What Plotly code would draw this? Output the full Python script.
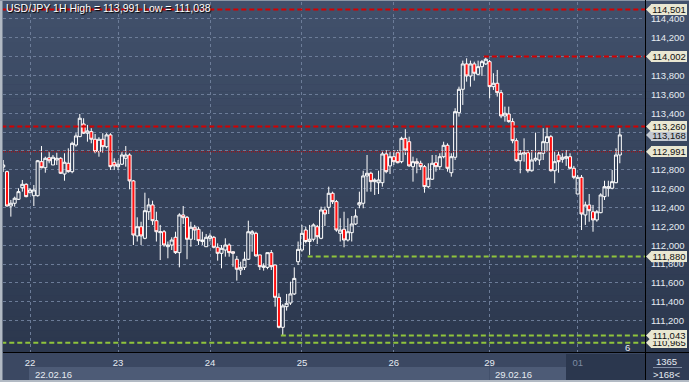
import plotly.graph_objects as go

# ---------------- data (USD/JPY, 1H candles) ----------------
opens = [112.829,112.780,112.416,112.445,112.487,112.610,112.646,112.557,112.525,112.525,
         112.886,112.822,112.928,112.851,112.904,112.922,112.755,112.869,112.780,113.063,
         113.152,113.286,113.188,113.205,113.124,112.992,113.124,113.045,113.170,112.880,
         112.833,112.859,112.922,112.957,112.682,112.098,112.196,112.073,112.355,112.427,
         112.260,112.133,112.143,111.984,112.002,112.084,111.921,112.321,112.296,112.063,
         112.190,112.169,112.039,111.984,112.073,112.084,111.978,111.914,111.949,112.002,
         111.931,111.851,111.737,111.765,111.851,112.119,112.126,111.897,111.765,111.765,
         111.921,111.790,111.447,111.129,111.348,111.387,111.483,111.825,111.949,112.161,
         112.039,112.063,112.196,112.073,112.374,112.402,112.551,112.462,112.126,112.169,
         112.055,112.133,112.225,112.427,112.445,112.735,112.763,112.674,112.663,112.663,
         112.968,112.841,112.939,112.981,112.886,113.134,113.098,112.833,112.886,112.869,
         112.833,112.621,112.700,112.875,112.833,112.939,113.060,112.769,112.933,113.406,
         113.654,113.923,113.795,113.923,113.813,113.894,113.923,113.947,113.682,113.718,
         113.618,113.371,113.392,113.311,113.109,112.896,112.968,112.981,112.790,112.904,
         112.904,112.975,113.088,113.151,112.790,112.957,112.911,112.922,112.939,112.816,
         112.543,112.720,112.321,112.427,112.355,112.268,112.345,112.515,112.604,112.604,
         112.663,112.957]
highs = [112.904,112.790,112.480,112.515,112.604,112.692,112.657,112.604,112.639,112.904,
         113.052,112.939,112.992,112.957,112.981,112.933,112.975,113.028,113.098,113.188,
         113.392,113.347,113.276,113.241,113.180,113.146,113.188,113.188,113.188,112.922,
         112.904,112.992,113.052,112.975,112.692,112.296,112.249,112.557,112.498,112.472,
         112.355,112.215,112.161,112.039,112.084,112.143,112.339,112.416,112.310,112.249,
         112.215,112.196,112.143,112.119,112.126,112.098,112.020,112.002,112.073,112.020,
         111.931,111.886,111.825,111.931,112.260,112.161,112.143,111.897,111.808,111.921,
         111.949,111.790,111.490,111.377,111.483,111.613,111.765,112.039,112.215,112.196,
         112.215,112.232,112.215,112.409,112.409,112.621,112.568,112.480,112.286,112.355,
         112.286,112.310,112.381,112.568,112.790,112.957,112.780,112.710,112.790,112.992,
         113.010,112.992,113.010,113.010,113.151,113.230,113.151,112.939,112.922,112.896,
         112.851,112.869,112.957,112.957,112.975,113.098,113.081,112.975,113.453,113.682,
         113.958,113.983,113.958,113.947,113.958,113.965,113.991,113.965,113.824,113.859,
         113.647,113.470,113.470,113.347,113.134,113.010,113.134,113.010,113.010,113.194,
         112.992,113.241,113.251,113.170,112.992,112.992,112.975,113.010,112.975,112.841,
         112.745,112.745,112.462,112.543,112.427,112.374,112.551,112.684,112.684,112.798,
         113.028,113.241]
lows = [112.777,112.409,112.303,112.409,112.480,112.568,112.508,112.551,112.416,112.515,
        112.816,112.769,112.869,112.851,112.851,112.755,112.684,112.769,112.763,113.045,
        113.146,113.180,113.098,113.081,112.975,112.939,112.981,113.028,112.798,112.798,
        112.798,112.851,112.833,112.593,112.002,112.039,112.002,112.063,112.268,112.215,
        112.039,111.843,111.984,111.861,111.949,111.907,111.765,112.225,111.851,111.984,
        112.055,112.002,112.002,111.984,112.039,111.967,111.836,111.755,111.878,111.878,
        111.772,111.624,111.684,111.737,111.843,111.931,111.878,111.737,111.730,111.745,
        111.737,111.348,111.118,111.038,111.306,111.366,111.472,111.790,111.931,112.020,
        111.897,112.039,112.013,112.063,112.204,112.331,112.437,112.143,112.039,111.978,
        112.039,112.039,112.215,112.392,112.392,112.568,112.568,112.533,112.543,112.621,
        112.763,112.755,112.851,112.869,112.869,112.957,112.833,112.674,112.763,112.798,
        112.557,112.604,112.692,112.780,112.798,112.922,112.780,112.727,112.904,113.364,
        113.488,113.735,113.682,113.746,113.806,113.795,113.912,113.559,113.647,113.576,
        113.347,113.311,113.300,113.081,112.886,112.763,112.886,112.769,112.780,112.886,
        112.851,112.904,112.992,112.780,112.657,112.769,112.875,112.841,112.806,112.700,
        112.543,112.161,112.215,112.249,112.143,112.249,112.339,112.480,112.515,112.593,
        112.657,112.869]
closes = [112.851,112.416,112.445,112.498,112.568,112.646,112.515,112.586,112.586,112.896,
          112.822,112.922,112.896,112.933,112.922,112.763,112.880,112.780,113.081,113.159,
          113.347,113.188,113.212,113.124,112.992,113.124,113.045,113.170,112.833,112.841,
          112.859,112.957,112.957,112.682,112.108,112.196,112.098,112.366,112.427,112.260,
          112.143,112.143,112.002,112.002,112.055,111.921,112.321,112.292,112.063,112.190,
          112.161,112.048,112.055,112.084,112.098,111.978,111.914,111.967,112.002,111.921,
          111.914,111.745,111.765,111.851,112.143,112.143,111.886,111.772,111.780,111.921,
          111.772,111.447,111.129,111.356,111.384,111.483,111.648,111.956,112.126,112.039,
          112.063,112.215,112.090,112.374,112.331,112.551,112.462,112.161,112.161,112.055,
          112.143,112.225,112.310,112.451,112.735,112.763,112.674,112.692,112.692,112.968,
          112.780,112.939,112.886,112.875,113.134,113.010,112.841,112.886,112.869,112.833,
          112.621,112.710,112.869,112.833,112.939,113.060,112.816,112.939,113.417,113.654,
          113.923,113.795,113.923,113.824,113.894,113.947,113.973,113.682,113.718,113.618,
          113.371,113.400,113.311,113.109,112.896,112.975,112.981,112.790,112.904,112.922,
          112.981,113.098,113.151,112.790,112.886,112.886,112.933,112.939,112.816,112.720,
          112.720,112.331,112.427,112.366,112.268,112.355,112.533,112.621,112.621,112.674,
          112.957,113.170]

day_start_bar = [7, 30, 54, 78, 102, 127, 150]
day_labels = ["22", "23", "24", "25", "26", "29", "01"]
week_labels = ["22.02.16", "29.02.16"]

price_ticks = [111.2, 111.4, 111.6, 111.8, 112.0, 112.2, 112.4, 112.6, 112.8,
               113.0, 113.2, 113.4, 113.6, 113.8, 114.0, 114.2, 114.4]

red_levels = [114.501, 114.002, 113.260]
red_level_from_bar = [0, 126, 0]
green_levels = [111.880, 111.043, 110.965]
green_level_from_bar = [80, 73, 0]
last_price_level = 112.991
last_close_tag = 113.168
high_value, low_value = 113.991, 111.038
bars_total, bars_visible = 1365, 168

# ---------------- geometry helpers ----------------
W, H = 689, 382
ML, MR, MT, MB = 3, 44, 2, 30
PW, PH = W - ML - MR, H - MT - MB
BAR_PX = 3.83

def pxx(px):
    return (px - ML) / PW

def pxy(py):
    return (H - MB - py) / PH

x_range = [-0.05, -0.05 + PW / BAR_PX]
y_range = [110.867, 114.580]
px_per_price = PH / (y_range[1] - y_range[0])

def fmt(v):
    return f"{v:.3f}".replace(".", ",")

FONT = "Liberation Sans"
idx = list(range(len(opens)))

fig = go.Figure()
fig.add_trace(go.Candlestick(
    x=idx, open=opens, high=highs, low=lows, close=closes,
    increasing=dict(line=dict(color="#ffffff", width=1), fillcolor="rgba(0,0,0,0)"),
    decreasing=dict(line=dict(color="#ffffff", width=1), fillcolor="#ff1010"),
    whiskerwidth=0, showlegend=False, hoverinfo="skip"))

shapes = []
# background gradient (plot + right price scale)
top_c = (65, 80, 107)
bot_c = (44, 56, 78)
N = 50
for i in range(N):
    t = i / (N - 1)
    c = tuple(int(round(top_c[k] + (bot_c[k] - top_c[k]) * t)) for k in range(3))
    ytop = pxy(0) - pxy(0) * i / N
    ybot = pxy(0) - pxy(0) * (i + 1) / N
    shapes.append(dict(type="rect", xref="paper", yref="paper", x0=pxx(0), x1=pxx(W),
                       y0=ybot, y1=ytop + 0.001, fillcolor=f"rgb{c}", line_width=0, layer="below"))

def prect(x0, x1, y0, y1, color, layer="below"):
    shapes.append(dict(type="rect", xref="paper", yref="paper", x0=pxx(x0), x1=pxx(x1),
                       y0=pxy(y1), y1=pxy(y0), fillcolor=color, line_width=0, layer=layer))

# bottom time-scale area
prect(0, 645.5, 352, 381, "#3b4862")
prect(29, 489, 367, 380, "#4d5b76")
prect(489.5, 566, 367, 380, "#4d5b76")
prect(566, 645, 354, 380, "#2b374e")
prect(646, 689, 353, 381, "#2f3b54")
prect(0, 689, 380, 382, "#b2bac4")
prect(0, 2.5, 0, 382, "#b2bac4")
prect(0, 689, 0, 1, "#8c96a6")

# separators
shapes.append(dict(type="line", xref="paper", yref="paper", x0=pxx(645.5), x1=pxx(645.5),
                   y0=pxy(380), y1=pxy(0), line=dict(color="#000000", width=1), layer="above"))
shapes.append(dict(type="line", xref="paper", yref="paper", x0=pxx(3), x1=pxx(689),
                   y0=pxy(352.5), y1=pxy(352.5), line=dict(color="#000000", width=1), layer="above"))
shapes.append(dict(type="line", xref="paper", yref="paper", x0=pxx(653), x1=pxx(682),
                   y0=pxy(367.5), y1=pxy(367.5), line=dict(color="#7f8ca3", width=1), layer="above"))

# horizontal levels
for v, b in zip(red_levels, red_level_from_bar):
    shapes.append(dict(type="line", xref="x", yref="y", x0=b - 0.5, x1=x_range[1], y0=v, y1=v,
                       line=dict(color="#d40000", width=2, dash="5px,3px"), layer="above"))
for v, b in zip(green_levels, green_level_from_bar):
    shapes.append(dict(type="line", xref="x", yref="y", x0=b - 0.5, x1=x_range[1], y0=v, y1=v,
                       line=dict(color="#8fc43c", width=2, dash="5px,3px"), layer="above"))
shapes.append(dict(type="line", xref="x", yref="y", x0=x_range[0], x1=x_range[1],
                   y0=last_price_level, y1=last_price_level,
                   line=dict(color="#b80000", width=1, dash="1px,1px"), layer="above"))

# price tags
annotations = []
tags = [(110.965, "#e9e7d2"), (111.043, "#e9e7d2"), (111.880, "#e9e7d2"),
        (last_price_level, "#e9e7d2"), (last_close_tag, "#c3c9d2"),
        (113.260, "#e9e7d2"), (114.002, "#e9e7d2"), (114.501, "#e9e7d2")]
dy = 5.5 / px_per_price
for v, col in tags:
    shapes.append(dict(type="path", xref="paper", yref="y",
                       path=f"M {pxx(646)},{v} L {pxx(651.5)},{v + dy} L {pxx(651.5)},{v - dy} Z",
                       fillcolor=col, line_width=0, layer="above"))
    annotations.append(dict(xref="paper", yref="y", x=pxx(651), y=v, xanchor="left",
                            yanchor="middle", text=fmt(v), showarrow=False,
                            font=dict(family=FONT, size=9.5, color="#111111"),
                            bgcolor=col, borderpad=0, borderwidth=0,
                            width=36, height=11, align="center"))

# title
annotations.append(dict(xref="paper", yref="paper", x=pxx(4), y=pxy(8), xanchor="left",
                        yanchor="middle", showarrow=False,
                        text=f"USD/JPY 1H High = {fmt(high_value)} Low = {fmt(low_value)}",
                        font=dict(family=FONT, size=10.5, color="#ffffff",
                                  shadow="1px 1px 1px #000000")))
# week labels
for lab, b in zip(week_labels, [day_start_bar[0], day_start_bar[5]]):
    annotations.append(dict(xref="x", yref="paper", x=b, y=pxy(374), xanchor="left",
                            yanchor="middle", xshift=3, showarrow=False, text=lab,
                            font=dict(family=FONT, size=9.5, color="#e6ebf2")))
annotations.append(dict(xref="paper", yref="paper", x=pxx(667), y=pxy(361), xanchor="center",
                        yanchor="middle", showarrow=False, text=str(bars_total),
                        font=dict(family=FONT, size=9.5, color="#e6ebf2")))
annotations.append(dict(xref="paper", yref="paper", x=pxx(667), y=pxy(374.5), xanchor="center",
                        yanchor="middle", showarrow=False, text=f"&gt;{bars_visible}&lt;",
                        font=dict(family=FONT, size=9.5, color="#e6ebf2")))
annotations.append(dict(xref="paper", yref="paper", x=pxx(627), y=pxy(347.5), xanchor="center",
                        yanchor="middle", showarrow=False, text="6",
                        font=dict(family=FONT, size=9.5, color="#e6ebf2")))

tick_text = [d if d != "01" else "<span style='color:#7d8aa2'>01</span>" for d in day_labels]

fig.update_layout(
    width=W, height=H, margin=dict(l=ML, r=MR, t=MT, b=MB, pad=0),
    paper_bgcolor="#2f3b54", plot_bgcolor="rgba(0,0,0,0)",
    boxgap=0.2, boxgroupgap=0,
    shapes=shapes, annotations=annotations, showlegend=False,
    font=dict(family=FONT, size=9.5, color="#e6ebf2"),
    xaxis=dict(range=x_range, tickvals=day_start_bar, ticktext=tick_text,
               showgrid=True, gridcolor="#6c7c98", gridwidth=1, griddash="3px,3px",
               zeroline=False, showline=False, ticks="", ticklabelstandoff=3,
               tickfont=dict(family=FONT, size=9.5, color="#e6ebf2"),
               rangeslider=dict(visible=False), fixedrange=True),
    yaxis=dict(range=y_range, side="right", tickvals=price_ticks,
               ticktext=[fmt(v) for v in price_ticks],
               showgrid=True, gridcolor="#6c7c98", gridwidth=1, griddash="3px,3px",
               zeroline=False, showline=False, ticks="", ticklabelstandoff=5,
               tickfont=dict(family=FONT, size=9.5, color="#e6ebf2"), fixedrange=True),
)

fig.write_html("out.html", config={"displayModeBar": False},
               post_script="document.body.style.margin='0px';document.body.style.padding='0px';"
                           "document.body.style.overflow='hidden';")
